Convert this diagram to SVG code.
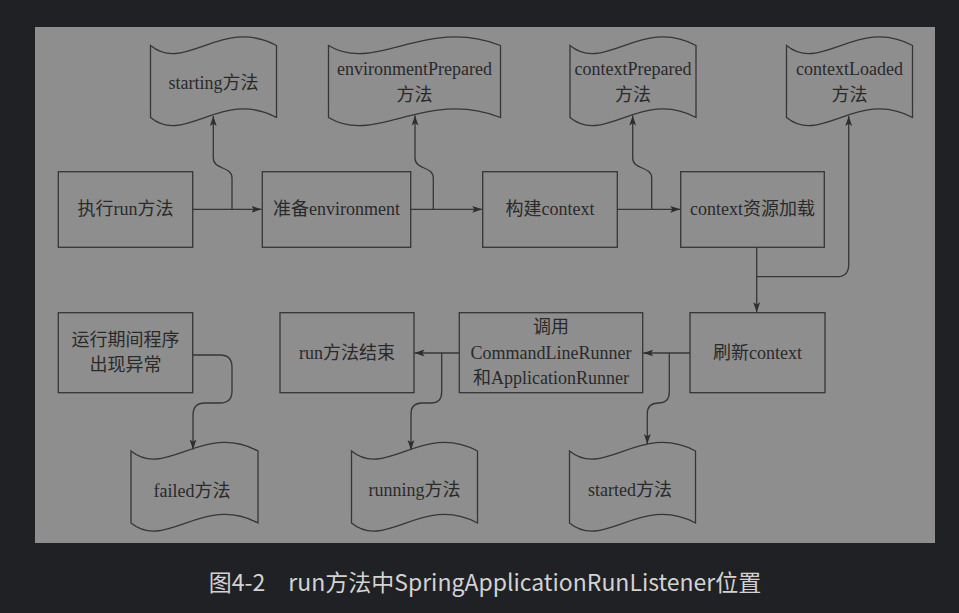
<svg xmlns="http://www.w3.org/2000/svg" width="959" height="613" viewBox="0 0 959 613">
<style>
.box{fill:none;stroke:#363636;stroke-width:1.3}
.tape{fill:none;stroke:#363636;stroke-width:1.3}
.t{font-family:"Liberation Serif","Noto Sans CJK SC",serif;font-size:18px;fill:#2a2a2a;text-anchor:middle;dominant-baseline:central}
.c{fill:none;stroke:#363636;stroke-width:1.3;marker-end:url(#ah)}
.cap{font-family:"Noto Sans CJK SC","Noto Sans",sans-serif;font-size:23px;fill:#d2d2d2;text-anchor:middle}
</style>
<defs>
<marker id="ah" markerUnits="userSpaceOnUse" markerWidth="11" markerHeight="8" refX="10" refY="4" orient="auto">
<path d="M0,0.6 L10,4 L0,7.4 L2.2,4 Z" fill="#2e2e2e"/>
</marker>
</defs>
<rect x="0" y="0" width="959" height="613" fill="#202124"/>
<rect x="35" y="27" width="900" height="516" fill="#8e8e8e"/>

<g id="connectors">
<path class="c" d="M192.7,209.3 H261.5"/>
<path class="c" d="M410.7,209.3 H482.2"/>
<path class="c" d="M617.3,209.3 H680.2"/>
<path class="c" d="M232,209.3 V178 C232,166 213.3,170 213.3,158 V116"/>
<path class="c" d="M433.3,209.3 V178 C433.3,166 415,170 415,158 V115.5"/>
<path class="c" d="M651.7,209.3 V178 C651.7,166 632.7,170 632.7,158 V115.5"/>
<path class="c" d="M756.7,247.3 V312.2"/>
<path class="c" d="M756.7,276.7 H836.7 Q848.7,276.7 848.7,264.7 V116"/>
<path class="c" d="M690,353 H643.2"/>
<path class="c" d="M459.3,353 H414.5"/>
<path class="c" d="M669.3,353 V392 Q669.3,403 658.3,403 Q647.3,403 647.3,414 V444"/>
<path class="c" d="M441.7,353 V392 Q441.7,403 431,403 H422 Q411,403 411,414 V450"/>
<path class="c" d="M192.7,355 H220 Q232,355 232,367 V391 Q232,403 220,403 H205 Q193,403 193,415 V449.5"/>
</g>

<g id="starting">
<path class="tape" d="M150.5,45.5 C185,74 222,16 276.5,45.5 V117.5 C222,88 185,146 150.5,117.5 Z"/>
<text class="t" x="213.5" y="83">starting方法</text>
</g>
<g id="environmentPrepared">
<path class="tape" d="M328.5,45.5 C375.6,74 426.1,16 500.5,45.5 V117.5 C426.1,88 375.6,146 328.5,117.5 Z"/>
<text class="t" x="414.5" y="68.5">environmentPrepared</text>
<text class="t" x="414.5" y="95">方法</text>
</g>
<g id="contextPrepared">
<path class="tape" d="M570,45.5 C604.5,74 641.5,16 696,45.5 V117.5 C641.5,88 604.5,146 570,117.5 Z"/>
<text class="t" x="633" y="68.5">contextPrepared</text>
<text class="t" x="633" y="95">方法</text>
</g>
<g id="contextLoaded">
<path class="tape" d="M786.5,45.5 C821,74 858,16 912.5,45.5 V117.5 C858,88 821,146 786.5,117.5 Z"/>
<text class="t" x="849.5" y="68.5">contextLoaded</text>
<text class="t" x="849.5" y="95">方法</text>
</g>

<g id="runMethod">
<rect class="box" x="58.3" y="171.7" width="134.4" height="75.6"/>
<text class="t" x="125.5" y="209.3">执行run方法</text>
</g>
<g id="prepareEnv">
<rect class="box" x="262.3" y="171.7" width="148.4" height="75.6"/>
<text class="t" x="336.5" y="209.3">准备environment</text>
</g>
<g id="buildContext">
<rect class="box" x="482.7" y="171.7" width="134.6" height="75.6"/>
<text class="t" x="550" y="209.3">构建context</text>
</g>
<g id="loadContext">
<rect class="box" x="680.7" y="171.7" width="143.6" height="75.6"/>
<text class="t" x="752.5" y="209.3">context资源加载</text>
</g>

<g id="exception">
<rect class="box" x="58.3" y="312.7" width="134.4" height="80"/>
<text class="t" x="125.5" y="340">运行期间程序</text>
<text class="t" x="125.5" y="365">出现异常</text>
</g>
<g id="runEnd">
<rect class="box" x="280" y="312.7" width="134" height="80"/>
<text class="t" x="347" y="353">run方法结束</text>
</g>
<g id="callRunners">
<rect class="box" x="459.3" y="312.7" width="183.4" height="80"/>
<text class="t" x="551" y="326.5">调用</text>
<text class="t" x="551" y="352.7">CommandLineRunner</text>
<text class="t" x="551" y="378.3">和ApplicationRunner</text>
</g>
<g id="refreshContext">
<rect class="box" x="690" y="312.7" width="135" height="80"/>
<text class="t" x="757.5" y="353">刷新context</text>
</g>

<g id="failed">
<path class="tape" d="M131,451 C165.8,479.5 203.3,421.5 258,451 V523 C203.3,493.5 165.8,551.5 131,523 Z"/>
<text class="t" x="192" y="491">failed方法</text>
</g>
<g id="running">
<path class="tape" d="M351.5,451 C386,479.5 423,421.5 477.5,451 V523 C423,493.5 386,551.5 351.5,523 Z"/>
<text class="t" x="414.5" y="490">running方法</text>
</g>
<g id="started">
<path class="tape" d="M569.5,451 C604,479.5 641,421.5 695.5,451 V523 C641,493.5 604,551.5 569.5,523 Z"/>
<text class="t" x="630" y="490">started方法</text>
</g>

<text class="cap" x="485" y="591">图4-2　run方法中SpringApplicationRunListener位置</text>
</svg>
